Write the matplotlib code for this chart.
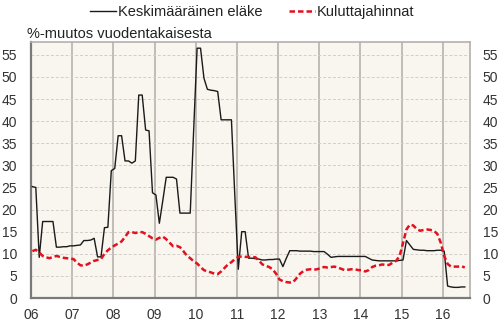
import matplotlib
matplotlib.use("Agg")
import matplotlib.pyplot as plt
import numpy as np

plt.rcParams['font.family'] = ['Liberation Sans', 'DejaVu Sans']

# Monthly data, Jan 2006 .. Jul 2016 (% change from a year earlier)
start_year = 6
pension = [25.2, 25.0, 9.2, 17.3, 17.3, 17.3, 17.3, 11.5, 11.5, 11.6, 11.6, 11.8,
           11.8, 11.9, 12.0, 13.0, 13.0, 13.1, 13.5, 9.3, 9.3, 15.9, 16.0, 28.8,
           29.3, 36.7, 36.7, 31.0, 31.0, 30.5, 31.0, 45.9, 45.9, 38.0, 37.8, 23.8,
           23.3, 16.9, 22.0, 27.3, 27.3, 27.3, 26.9, 19.2, 19.2, 19.2, 19.2, 38.0,
           56.5, 56.5, 49.7, 47.2, 47.0, 46.9, 46.7, 40.3, 40.3, 40.3, 40.3, 23.0,
           6.5, 15.0, 15.0, 9.0, 9.0, 8.9, 8.8, 8.6, 8.6, 8.7, 8.7, 8.8,
           8.8, 7.1, 9.0, 10.7, 10.7, 10.7, 10.6, 10.6, 10.6, 10.6, 10.5, 10.5,
           10.5, 10.5, 9.9, 9.2, 9.3, 9.4, 9.4, 9.4, 9.4, 9.4, 9.4, 9.4,
           9.4, 9.4, 9.0, 8.6, 8.5, 8.4, 8.4, 8.4, 8.4, 8.4, 8.4, 8.5,
           8.6, 13.0, 12.0, 11.0, 10.9, 10.8, 10.8, 10.7, 10.7, 10.7, 10.8, 10.8,
           10.6, 2.7, 2.5, 2.4, 2.4, 2.5, 2.5]
cpi = [10.6, 10.9, 10.3, 9.5, 9.2, 9.0, 9.3, 9.5, 9.3, 9.1, 9.0, 8.9,
       8.8, 8.0, 7.4, 7.3, 7.6, 8.0, 8.4, 8.6, 8.8, 10.0, 10.8, 11.4,
       11.9, 12.3, 12.8, 13.8, 14.9, 14.9, 14.7, 14.9, 14.9, 14.5, 14.0, 13.5,
       13.2, 13.6, 13.9, 13.3, 12.5, 11.7, 11.8, 11.5, 10.6, 9.6, 9.0, 8.3,
       7.8, 7.0, 6.3, 6.0, 5.8, 5.5, 5.4, 6.0, 6.8, 7.6, 8.1, 8.8,
       9.3, 9.4, 9.3, 9.3, 9.3, 9.2, 8.5, 7.6, 7.3, 7.0, 6.5, 5.5,
       4.2, 3.8, 3.6, 3.5, 3.6, 4.5, 5.5, 6.1, 6.4, 6.5, 6.4, 6.5,
       6.8, 7.0, 6.9, 7.0, 7.1, 6.9, 6.6, 6.3, 6.4, 6.5, 6.5, 6.3,
       6.3, 6.0, 6.3, 7.0, 7.3, 7.4, 7.6, 7.4, 7.5, 8.0, 8.4, 9.5,
       12.4, 15.5, 16.6, 16.4, 15.6, 15.2, 15.4, 15.5, 15.4, 15.2, 14.5, 12.5,
       9.5, 7.7, 7.1, 7.1, 7.1, 7.2, 6.9]
year_labels = ['06', '07', '08', '09', '10', '11', '12', '13', '14', '15', '16']
y_ticks = [0, 5, 10, 15, 20, 25, 30, 35, 40, 45, 50, 55]
series_names = ['Keskimääräinen eläke', 'Kuluttajahinnat']
title = '%-muutos vuodentakaisesta'

t = start_year + (np.arange(len(pension)) + 0.4) / 12.0

W, H = 502, 323
fig = plt.figure(figsize=(W / 100, H / 100), dpi=100)
ax = fig.add_axes([31 / W, (H - 298) / H, (470 - 31) / W, (298 - 42) / H])
ax.set_facecolor('#F9F5EF')

l1, = ax.plot(t, pension, color='#1a1a1a', lw=1.0, label=series_names[0], zorder=3)
l2, = ax.plot(t, cpi, color='#E4101E', lw=1.8, ls=(0, (2.2, 1.2)), label=series_names[1], zorder=4)

ax.set_xlim(6, 16.66)
ax.set_ylim(0, 57.9)
ax.set_xticks(np.arange(6, 17))
ax.set_xticklabels(year_labels)
ax.set_yticks(y_ticks)
ax.tick_params(axis='both', length=0, labelsize=10, colors='#333333')
ax.tick_params(axis='y', pad=10)
ax.tick_params(axis='x', pad=7)

ax2 = ax.twinx()
ax2.set_ylim(ax.get_ylim())
ax2.set_yticks(y_ticks)
ax2.tick_params(axis='y', length=0, labelsize=10, colors='#333333', pad=9)
for s in ax2.spines.values():
    s.set_visible(False)

ax.set_axisbelow(True)
for xv in range(7, 17):
    ax.axvline(xv, color='#BDB8B3', lw=1.3, zorder=1)
for yv in y_ticks[1:]:
    ax.axhline(yv, color='#D2CDC8', lw=0.7, ls=(0, (3, 2)), zorder=1)

for side in ['top', 'right']:
    ax.spines[side].set_color('#B5B0AB')
    ax.spines[side].set_linewidth(1.2)
for side in ['left', 'bottom']:
    ax.spines[side].set_color('#7a7a7a')
    ax.spines[side].set_linewidth(1.6)

fig.text(27 / W, 1 - 34 / H, title, fontsize=10.5, color='#222222', va='center', ha='left')

fig.legend(handles=[l1, l2], loc='center', bbox_to_anchor=(252 / W, 1 - 12 / H), ncol=2,
           frameon=False, fontsize=10.5, handlelength=1.8, handletextpad=0.1,
           columnspacing=1.8, labelcolor='#222222')

fig.savefig('out.png', dpi=100, facecolor='white')
